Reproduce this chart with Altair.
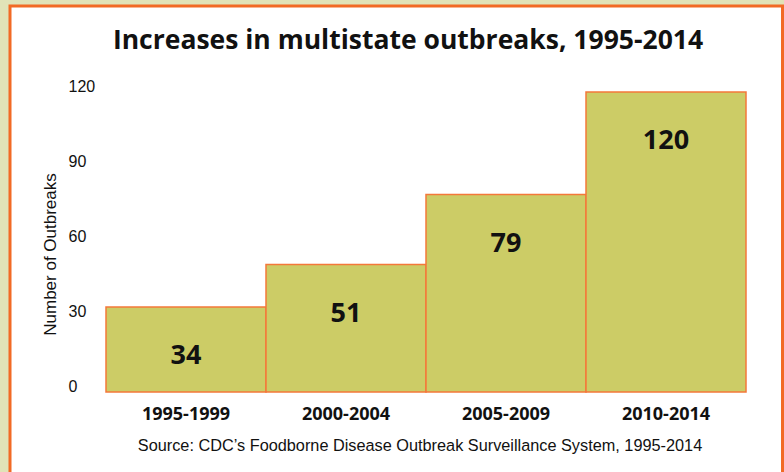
import altair as alt
import pandas as pd

# ---- data ----
periods = ["1995-1999", "2000-2004", "2005-2009", "2010-2014"]
outbreaks = [34, 51, 79, 120]
y_ticks = [0, 30, 60, 90, 120]
title_text = "Increases in multistate outbreaks, 1995-2014"
y_title = "Number of Outbreaks"
source_text = "Source: CDC\u2019s Foodborne Disease Outbreak Surveillance System, 1995-2014"

NARROW = "Liberation Sans, Arial, sans-serif"
BOLD = "Open Sans, Lato, sans-serif"
BAR_FILL = "#cccc66"
BAR_STROKE = "#f3783a"
FRAME = "#f26a25"
BG = "#e1e3b8"

df = pd.DataFrame({"period": periods, "outbreaks": outbreaks})

x_enc = alt.X(
    "period:N",
    sort=periods,
    scale=alt.Scale(paddingInner=0, paddingOuter=0),
    axis=alt.Axis(
        title=None, labelAngle=0, labelFont=BOLD, labelFontWeight="bold",
        labelFontSize=18, labelColor="#111111", domain=False, ticks=False,
        tickSize=0, labelPadding=13, zindex=2,
    ),
)
y_enc = alt.Y(
    "outbreaks:Q",
    scale=alt.Scale(domain=[0, 120], nice=False),
    axis=alt.Axis(
        values=y_ticks, title=y_title, grid=False, domain=False, ticks=False,
        tickSize=0, labelAlign="left", labelPadding=38, labelOffset=-6,
        labelFont=NARROW, labelFontSize=16, labelColor="#111111",
        titleFont=NARROW, titleFontSize=17, titleFontWeight="normal",
        titleColor="#111111", titleAngle=-90, titleX=-56, titleY=162,
        titleAlign="center", titleBaseline="middle", zindex=2,
    ),
)

frame = alt.Chart(pd.DataFrame({"k": [0]})).mark_rect(
    fill="white", stroke=FRAME, strokeWidth=3
).encode(
    x=alt.value(-96), x2=alt.value(676.5), y=alt.value(-86), y2=alt.value(400)
)

bars = alt.Chart(df).mark_bar(
    fill=BAR_FILL, stroke=BAR_STROKE, strokeWidth=1.5
).encode(x=x_enc, y=y_enc)

labels = alt.Chart(df).mark_text(
    font=BOLD, fontWeight="bold", fontSize=27, baseline="middle", dy=49,
    color="#111111",
).encode(x=alt.X("period:N", sort=periods), y="outbreaks:Q", text="outbreaks:Q")

title = alt.Chart(pd.DataFrame({"t": [title_text]})).mark_text(
    font=BOLD, fontWeight="bold", fontSize=26.5, align="center",
    baseline="alphabetic", color="#111111",
).encode(x=alt.value(302), y=alt.value(-43), text="t:N")

source = alt.Chart(pd.DataFrame({"t": [source_text]})).mark_text(
    font=NARROW, fontSize=16.3, align="center", baseline="alphabetic",
    color="#111111",
).encode(x=alt.value(314), y=alt.value(359), text="t:N")

chart = alt.layer(frame, bars, labels, title, source).properties(
    width=640, height=300,
    autosize=alt.AutoSizeParams(type="none"),
    padding={"left": 106, "top": 92, "right": 38, "bottom": 80},
    background=BG,
).configure_view(strokeWidth=0)

chart.save("out.html", embed_options={"renderer": "svg", "actions": False})
